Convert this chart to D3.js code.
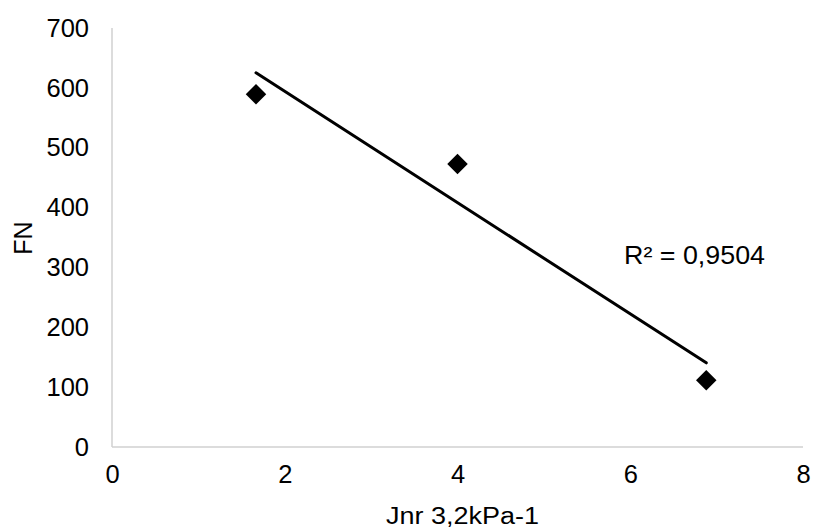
<!DOCTYPE html>
<html><head><meta charset="utf-8">
<script src="https://cdn.jsdelivr.net/npm/d3@7"></script>
<style>body{margin:0;background:#fff;} text{font-family:"Liberation Sans",Arial,sans-serif;}</style>
</head><body><svg id="c" width="814" height="529"></svg>
<script>
const jnr = [1.667, 4.0, 6.88];
const fn = [589.5, 472.8, 111.7];
const xTicks = [0, 2, 4, 6, 8];
const yTicks = [0, 100, 200, 300, 400, 500, 600, 700];
const r2Label = "R² = 0,9504";
const xTitle = "Jnr 3,2kPa-1";
const yTitle = "FN";

const svg = d3.select("#c");
const x = d3.scaleLinear().domain([0, 8]).range([112, 803]);
const y = d3.scaleLinear().domain([0, 700]).range([447, 28]);
const axisColor = "#d0d0d0";
const fs = 25.5;

// axes lines
svg.append("line").attr("x1", x(0)).attr("x2", x(8)).attr("y1", y(0)).attr("y2", y(0))
  .attr("stroke", axisColor).attr("stroke-width", 1.5);
svg.append("line").attr("x1", x(0)).attr("x2", x(0)).attr("y1", y(0)).attr("y2", y(700))
  .attr("stroke", axisColor).attr("stroke-width", 1.5);

const xa = svg.append("g").attr("transform", `translate(0,${y(0)})`)
  .call(d3.axisBottom(x).tickValues(xTicks).tickSize(0).tickPadding(18).tickFormat(d3.format("d")));
xa.select(".domain").remove();
xa.selectAll("text").attr("font-size", fs).attr("fill", "#000").attr("font-family", "Liberation Sans, Arial, sans-serif");

const ya = svg.append("g").attr("transform", `translate(${x(0)},0)`)
  .call(d3.axisLeft(y).tickValues(yTicks).tickSize(0).tickPadding(23).tickFormat(d3.format("d")));
ya.select(".domain").remove();
ya.selectAll("text").attr("font-size", fs).attr("fill", "#000").attr("font-family", "Liberation Sans, Arial, sans-serif");

// titles
svg.append("text").attr("x", 386).attr("y", 524)
  .attr("font-size", 23).attr("textLength", 153).attr("lengthAdjust", "spacingAndGlyphs").text(xTitle);
svg.append("text").attr("transform", `translate(32,238) rotate(-90)`).attr("text-anchor", "middle")
  .attr("font-size", 25).text(yTitle);

// trendline (least squares)
const mx = d3.mean(jnr), my = d3.mean(fn);
let sxy = 0, sxx = 0;
jnr.forEach((v, i) => { sxy += (v - mx) * (fn[i] - my); sxx += (v - mx) * (v - mx); });
const slope = sxy / sxx, icpt = my - slope * mx;
const x0 = d3.min(jnr), x1 = d3.max(jnr);
svg.append("line").attr("x1", x(x0)).attr("y1", y(icpt + slope * x0))
  .attr("x2", x(x1)).attr("y2", y(icpt + slope * x1))
  .attr("stroke", "#000").attr("stroke-width", 3).attr("stroke-linecap", "round");

// markers
svg.selectAll("path.pt").data(jnr).join("path").attr("class", "pt")
  .attr("transform", (d, i) => `translate(${x(d)},${y(fn[i])}) rotate(45)`)
  .attr("d", d3.symbol().type(d3.symbolSquare).size(210)).attr("fill", "#000");

svg.append("text").attr("x", 624).attr("y", 264).attr("font-size", 25)
  .attr("textLength", 141).attr("lengthAdjust", "spacingAndGlyphs").text(r2Label);
</script></body></html>
